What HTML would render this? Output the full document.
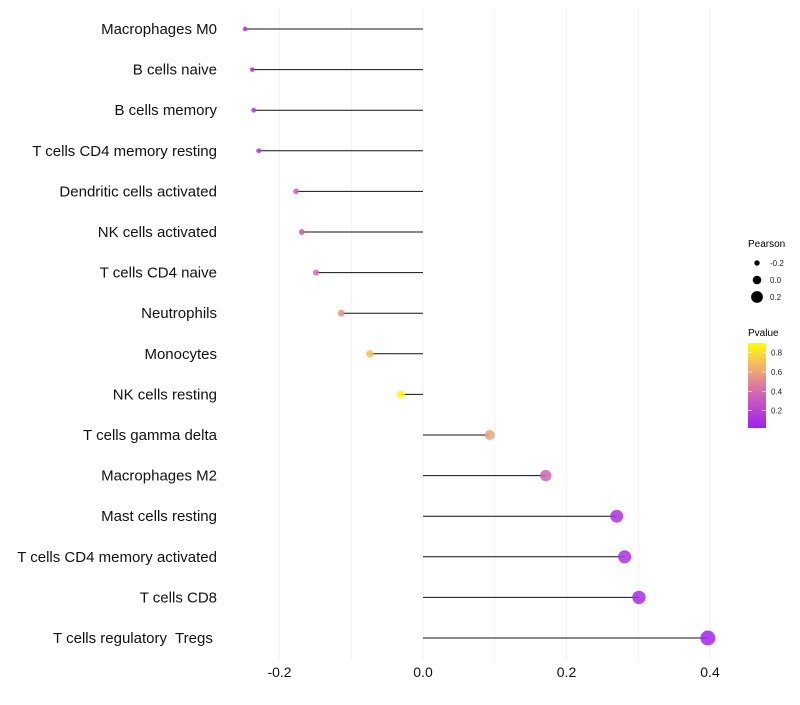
<!DOCTYPE html>
<html><head><meta charset="utf-8"><style>
body{margin:0;background:#fff;font-family:"Liberation Sans",sans-serif;}
svg text{white-space:pre;}
</style></head><body>
<svg id="chart" width="800" height="700" xmlns="http://www.w3.org/2000/svg" font-family="Liberation Sans, sans-serif" xml:space="preserve"></svg>
<script>
const categories=["Macrophages M0","B cells naive","B cells memory","T cells CD4 memory resting","Dendritic cells activated","NK cells activated","T cells CD4 naive","Neutrophils","Monocytes","NK cells resting","T cells gamma delta","Macrophages M2","Mast cells resting","T cells CD4 memory activated","T cells CD8","T cells regulatory  Tregs "];
const pearson=[-0.248,-0.238,-0.236,-0.229,-0.177,-0.169,-0.149,-0.114,-0.074,-0.031,0.093,0.171,0.270,0.281,0.301,0.397];
const pvalue=[0.10,0.12,0.12,0.13,0.35,0.35,0.42,0.55,0.70,0.88,0.60,0.35,0.11,0.10,0.08,0.04];
const xTicks=[-0.2,0,0.2,0.4];
const xTickLabels=["-0.2","0.0","0.2","0.4"];
const sizeLegend=[-0.2,0.0,0.2];
const pTicks=[0.2,0.4,0.6,0.8];

const svgEl=document.getElementById('chart');
const NS="http://www.w3.org/2000/svg";
function mk(t,a,p){const e=document.createElementNS(NS,t);for(const k in a)e.setAttribute(k,a[k]);(p||svgEl).appendChild(e);return e;}
const xs=v=>423+v*717.5;
const ys=i=>29+i*40.6;
const rs=v=>Math.max(1.5,4.3+8*v);
const pMin=0.02,pMax=0.9;
function col(p){
  let t=Math.min(1,Math.max(0,(p-pMin)/(pMax-pMin)));
  const stops=[[0,[160,32,240]],[0.45,[215,110,170]],[0.75,[245,185,100]],[1,[255,255,0]]];
  for(let i=0;i<stops.length-1;i++){const[a,c1]=stops[i],[b,c2]=stops[i+1];
    if(t<=b){const f=(t-a)/(b-a);return `rgb(${c1.map((c,j)=>Math.round(c+(c2[j]-c)*f)).join(',')})`;}}
  return 'rgb(255,255,0)';
}
for(let v=-0.3;v<=0.5;v+=0.1){const xv=xs(v);if(xv<232||xv>715)continue;
  const g=mk('line',{x1:xv,x2:xv,y1:8,y2:660,stroke:'#f2f2f2','stroke-width':1});
  
  }
categories.forEach((c,i)=>{
  const t=mk('text',{x:217,y:ys(i)+5,'text-anchor':'end','font-size':15,fill:'#111'});t.textContent=c;
  
  
  const l=mk('line',{x1:xs(0),x2:xs(pearson[i]),y1:ys(i),y2:ys(i),stroke:'#111','stroke-width':1});
  
  
  const d=mk('circle',{cx:xs(pearson[i]),cy:ys(i),r:rs(pearson[i]),fill:col(pvalue[i]),'fill-opacity':0.85});
  
  
});
xTicks.forEach((v,i)=>{const t=mk('text',{x:xs(v),y:677,'text-anchor':'middle','font-size':14,fill:'#111'});t.textContent=xTickLabels[i];
  
  });
let tl=mk('text',{x:748,y:247,'font-size':10,fill:'#000'});tl.textContent='Pearson';


sizeLegend.forEach((v,i)=>{const cy=263+i*17;
  const c=mk('circle',{cx:757,cy:cy,r:rs(v),fill:'#000'});
  
  
  const tt=mk('text',{x:770,y:cy+3,'font-size':8,fill:'#222'});tt.textContent=v.toFixed(1);
  
  });
tl=mk('text',{x:748,y:336,'font-size':10,fill:'#000'});tl.textContent='Pvalue';


const defs=mk('defs',{});
const lg=mk('linearGradient',{id:'pg',x1:0,y1:1,x2:0,y2:0},defs);
for(let k=0;k<=10;k++){const p=pMin+(pMax-pMin)*k/10;mk('stop',{offset:k/10,'stop-color':col(p)},lg);}
const legTop=343,legBot=428,py=p=>legBot-(p-pMin)/(pMax-pMin)*(legBot-legTop);
const bar=mk('rect',{x:748,y:legTop,width:18,height:legBot-legTop,fill:'url(#pg)'});


pTicks.forEach(p=>{
  mk('line',{x1:748,x2:752,y1:py(p),y2:py(p),stroke:'#fff','stroke-width':0.6});
  mk('line',{x1:762,x2:766,y1:py(p),y2:py(p),stroke:'#fff','stroke-width':0.6});
  const tt=mk('text',{x:771,y:py(p)+3,'font-size':8,fill:'#222'});tt.textContent=p.toFixed(1);
  
  });
</script>
</body></html>
